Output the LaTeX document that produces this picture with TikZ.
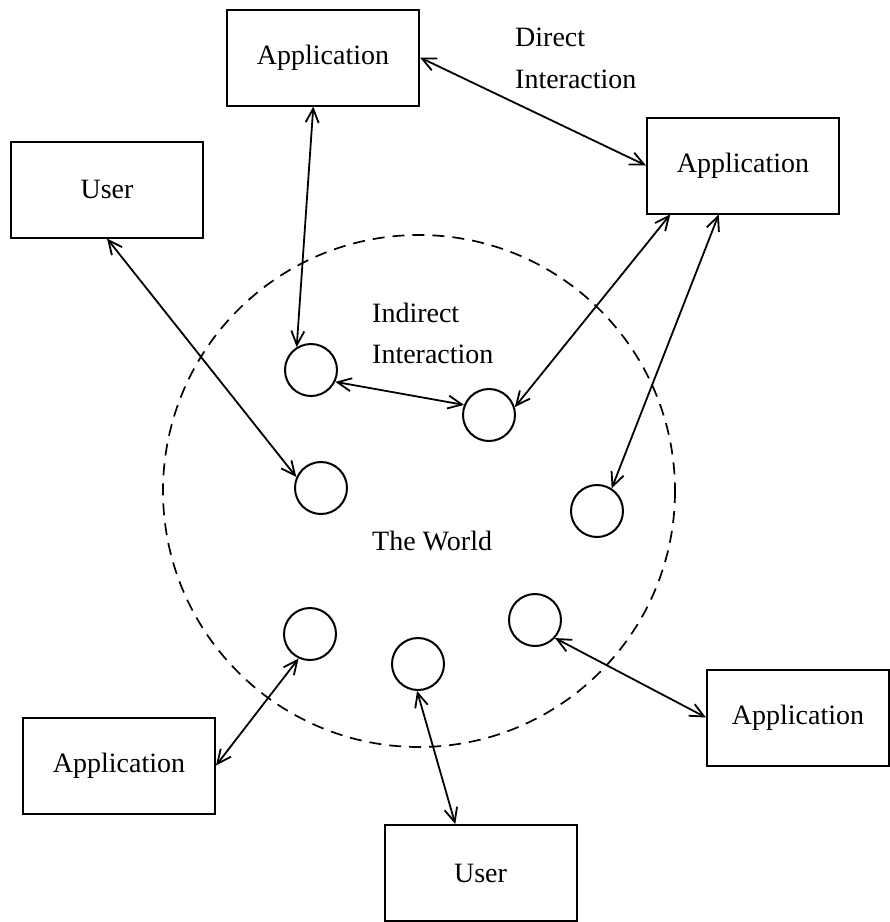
\documentclass[tikz,border=0pt]{standalone}
\usepackage{fontspec}
\setmainfont{Liberation Serif}
\usetikzlibrary{arrows.meta,calc}
\begin{document}
\begin{tikzpicture}[x=1pt,y=-1pt,
  every node/.style={font=\fontsize{28}{34}\selectfont},
  box/.style={draw,line width=2pt,rectangle,minimum width=192pt,minimum height=96pt,inner sep=0pt},
  obj/.style={draw,line width=2pt,circle,minimum size=52pt,inner sep=0pt},
  world/.style={draw,line width=1.7pt,dash pattern=on 12pt off 8pt},
  link/.style={line width=1.8pt,{Straight Barb[length=14pt,width=13pt]}-{Straight Barb[length=14pt,width=13pt]}},
  lbl/.style={anchor=base west,inner sep=0pt}]
\useasboundingbox (0,0) rectangle (890,922);

% the world and the things in it
\draw[world] (419,491) circle (256);
\node[obj] (c1) at (311,370) {};
\node[obj] (c2) at (489,415) {};
\node[obj] (c3) at (321,488) {};
\node[obj] (c4) at (597,511) {};
\node[obj] (c5) at (535,620) {};
\node[obj] (c6) at (310,634) {};
\node[obj] (c7) at (418,664) {};

% users and applications
\node[box] (app1) at (323,57.5) {Application};
\node[box] (app2) at (743,165.5) {Application};
\node[box] (user1) at (107,189.5) {User};
\node[box,minimum width=182pt] (app4) at (798,717.5) {Application};
\node[box] (app3) at (119,765.5) {Application};
\node[box] (user2) at (480.5,873) {User};

% labels
\node[lbl] (direct1) at (515,46) {Direct};
\node[lbl] (direct2) at (515,88) {Interaction};
\node[lbl] (indirect1) at (372,322) {Indirect};
\node[lbl] (indirect2) at (372,363) {Interaction};
\node[lbl] (worldlbl) at (372,550) {The World};

% interactions
\draw[link] ($(app1.south west)!0.45!(app1.south east)$) -- (c1.122);
\draw[link] (app1.east) -- (app2.west);
\draw[link] (user1.south) -- (c3.156);
\draw[link] (c1.334) -- (c2.158);
\draw[link] ($(app2.south west)!0.125!(app2.south east)$) -- (c2.17);
\draw[link] ($(app2.south west)!0.375!(app2.south east)$) -- (c4.57);
\draw[link] (c5.318) -- (app4.west);
\draw[link] (c6.245) -- (app3.east);
\draw[link] (c7.268) -- ($(user2.north west)!0.37!(user2.north east)$);
\end{tikzpicture}
\end{document}
